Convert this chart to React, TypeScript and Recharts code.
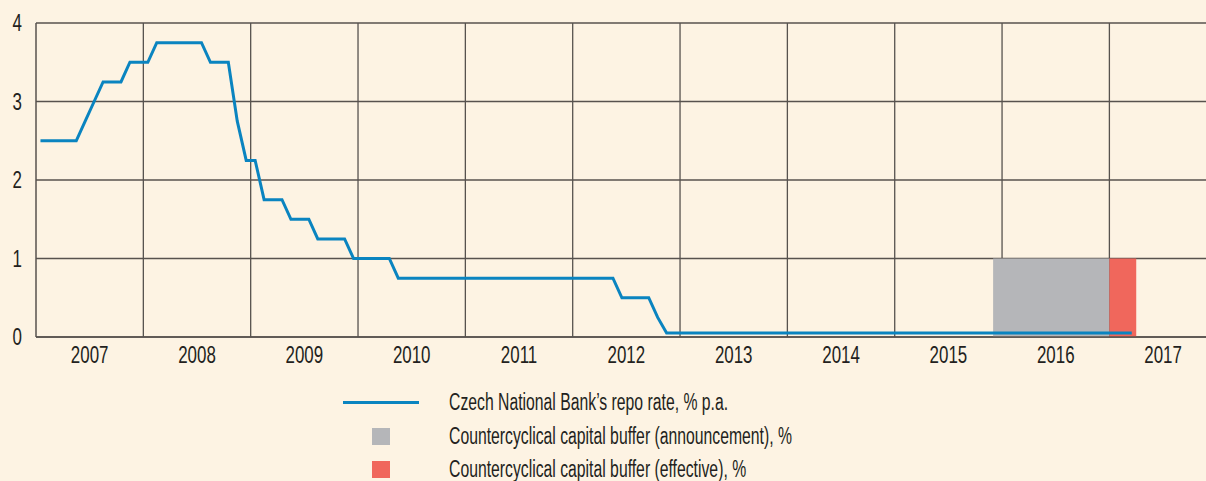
import React from 'react';
import { ComposedChart, Line, Area, XAxis, YAxis, CartesianGrid, Legend } from 'recharts';

// Month index counted from January 2007 (0 = Jan 2007)
const years = ['2007', '2008', '2009', '2010', '2011', '2012', '2013', '2014', '2015', '2016', '2017'];
const yTicks = [0, 1, 2, 3, 4];

// Czech National Bank's repo rate, % p.a., monthly Jan 2007 – Mar 2017
const repoRate = [
  2.5, 2.5, 2.5, 2.5, 2.5, 2.75, 3.0, 3.25, 3.25, 3.25,
  3.5, 3.5, 3.5, 3.75, 3.75, 3.75, 3.75, 3.75, 3.75, 3.5,
  3.5, 3.5, 2.75, 2.25, 2.25, 1.75, 1.75, 1.75, 1.5, 1.5,
  1.5, 1.25, 1.25, 1.25, 1.25, 1.0, 1.0, 1.0, 1.0, 1.0,
  0.75, 0.75, 0.75, 0.75, 0.75, 0.75, 0.75, 0.75, 0.75, 0.75,
  0.75, 0.75, 0.75, 0.75, 0.75, 0.75, 0.75, 0.75, 0.75, 0.75,
  0.75, 0.75, 0.75, 0.75, 0.75, 0.5, 0.5, 0.5, 0.5, 0.25,
  0.05, 0.05, 0.05, 0.05, 0.05, 0.05, 0.05, 0.05, 0.05, 0.05,
  0.05, 0.05, 0.05, 0.05, 0.05, 0.05, 0.05, 0.05, 0.05, 0.05,
  0.05, 0.05, 0.05, 0.05, 0.05, 0.05, 0.05, 0.05, 0.05, 0.05,
  0.05, 0.05, 0.05, 0.05, 0.05, 0.05, 0.05, 0.05, 0.05, 0.05,
  0.05, 0.05, 0.05, 0.05, 0.05, 0.05, 0.05, 0.05, 0.05, 0.05,
  0.05, 0.05, 0.05,
];

// Countercyclical capital buffer: period boundaries (month index) and level, %
const announcementMonths = [107, 120];
const announcementValues = [1, 1];
const effectiveMonths = [120, 123];
const effectiveValues = [1, 1];

const legendLabels = [
  "Czech National Bank’s repo rate, % p.a.",
  'Countercyclical capital buffer (announcement), %',
  'Countercyclical capital buffer (effective), %',
];
const seriesKeys = ['repo', 'ann', 'eff'];

const X_MAX = 130.8;
const BG = '#fdf3e3';
const BLUE = '#0a84c0';
const GREY = '#b5b6b9';
const RED = '#f0675c';
const GRID = '#57524e';
const TEXT = '#231f20';
const FONT = '"Liberation Sans", Arial, sans-serif';
const TICK_SIZE = 23.5;
const TICK_SCALE = 0.72;

const repoData = repoRate.map((v, i) => ({ m: i + 0.5, repo: v }));
const annData = announcementMonths.map((m, i) => ({ m, ann: announcementValues[i] }));
const effData = effectiveMonths.map((m, i) => ({ m, eff: effectiveValues[i] }));
const xTicks = years.map((_, i) => i * 12 + 6);
const yearBoundaries = years.slice(1).map((_, i) => (i + 1) * 12);
const colors: Record<string, string> = { repo: BLUE, ann: GREY, eff: RED };

const XTick = (props: any) => {
  const { x, y, payload } = props;
  const label = years[Math.round((payload.value - 6) / 12)];
  return (
    <g transform={`translate(${x},${y})`}>
      <text
        transform={`scale(${TICK_SCALE},1)`}
        textAnchor="middle"
        dy="0.71em"
        fill={TEXT}
        fontSize={TICK_SIZE}
        fontFamily={FONT}
      >
        {label}
      </text>
    </g>
  );
};

const YTick = (props: any) => {
  const { x, y, payload } = props;
  return (
    <g transform={`translate(${x},${y})`}>
      <text
        transform={`scale(${TICK_SCALE},1)`}
        textAnchor="end"
        dy="0.355em"
        fill={TEXT}
        fontSize={TICK_SIZE}
        fontFamily={FONT}
      >
        {payload.value}
      </text>
    </g>
  );
};

const renderLegend = () => (
  <div style={{ fontFamily: FONT, color: TEXT }}>
    {seriesKeys.map((k, i) => (
      <div key={k} style={{ display: 'flex', alignItems: 'center', height: 33.5 }}>
        <div style={{ width: 106, flex: '0 0 106px', display: 'flex', alignItems: 'center' }}>
          {k === 'repo' ? (
            <div style={{ width: 76, height: 3, background: colors[k] }} />
          ) : (
            <div style={{ width: 18, height: 17, marginLeft: 29, background: colors[k] }} />
          )}
        </div>
        <span
          style={{
            fontSize: 23,
            whiteSpace: 'nowrap',
            display: 'inline-block',
            transform: 'scaleX(0.685)',
            transformOrigin: 'left center',
          }}
        >
          {legendLabels[i]}
        </span>
      </div>
    ))}
  </div>
);

export default function App() {
  return (
    <div style={{ width: 1206, height: 481, background: BG, fontFamily: FONT, position: 'relative', overflow: 'hidden' }}>
      <style>{`body{margin:0;background:${BG}}`}</style>
      <ComposedChart width={1206} height={481} margin={{ top: 23, right: 0, left: 0, bottom: 114 }}>
        <CartesianGrid
          stroke={GRID}
          strokeWidth={1.3}
          horizontal={true}
          vertical={true}
          verticalCoordinatesGenerator={({ xAxis, offset }: any) =>
            yearBoundaries.map((b) =>
              xAxis && typeof xAxis.scale === 'function'
                ? xAxis.scale(b)
                : offset.left + (b / X_MAX) * offset.width
            )
          }
        />
        <XAxis
          type="number"
          dataKey="m"
          domain={[0, X_MAX]}
          ticks={xTicks}
          interval={0}
          height={30}
          tickLine={false}
          tickMargin={3}
          axisLine={{ stroke: GRID, strokeWidth: 1.5 }}
          tick={<XTick />}
          allowDataOverflow
        />
        <YAxis
          type="number"
          domain={[0, 4]}
          ticks={yTicks}
          interval={0}
          width={36}
          tickLine={false}
          tickMargin={8}
          axisLine={{ stroke: GRID, strokeWidth: 1.5 }}
          tick={<YTick />}
        />
        <Area
          data={annData}
          dataKey="ann"
          name={legendLabels[1]}
          type="linear"
          stroke="none"
          fill={GREY}
          fillOpacity={1}
          legendType="square"
          isAnimationActive={false}
        />
        <Area
          data={effData}
          dataKey="eff"
          name={legendLabels[2]}
          type="linear"
          stroke="none"
          fill={RED}
          fillOpacity={1}
          legendType="square"
          isAnimationActive={false}
        />
        <Line
          data={repoData}
          dataKey="repo"
          name={legendLabels[0]}
          type="linear"
          stroke={BLUE}
          strokeWidth={3}
          dot={false}
          activeDot={false}
          legendType="line"
          isAnimationActive={false}
        />
        <Legend
          layout="vertical"
          align="center"
          verticalAlign="middle"
          wrapperStyle={{ top: 386, left: 343, width: 700, height: 100 }}
          content={renderLegend}
        />
      </ComposedChart>
    </div>
  );
}
